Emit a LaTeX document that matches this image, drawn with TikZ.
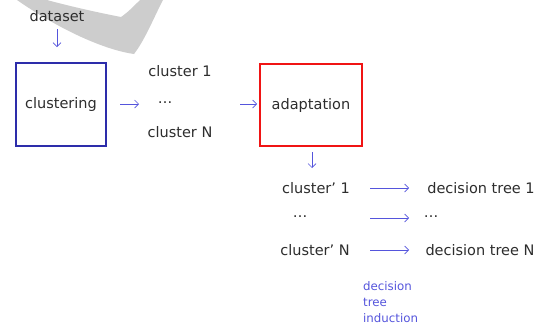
\documentclass[tikz,border=0pt]{standalone}
\usepackage{fontspec}
\setmainfont{DejaVu Sans}
\usetikzlibrary{arrows.meta}
\definecolor{txtgray}{RGB}{45,45,45}
\definecolor{flowblue}{RGB}{85,85,220}
\definecolor{boxblue}{RGB}{45,45,170}
\definecolor{boxred}{RGB}{240,20,20}
\definecolor{logogray}{RGB}{205,205,205}
\newcommand{\prm}{\char"0027}
\tikzset{
  lbl/.style={text=txtgray, font=\fontsize{14.5}{16}\selectfont, inner sep=0pt},
  procbox/.style={draw, line width=2pt, minimum width=90pt, minimum height=82pt, inner sep=0pt, text=txtgray, font=\fontsize{14.5}{16}\selectfont},
  flow/.style={draw=flowblue, line width=0.7pt, -{Straight Barb[length=4pt,width=8pt]}},
  note/.style={text=flowblue, font=\fontsize{11.8}{16}\selectfont, align=left, inner sep=0pt, anchor=north west}
}
\begin{document}
\begin{tikzpicture}[x=1pt,y=-1pt]
\useasboundingbox (0,0) rectangle (540,327);
% background logo stroke
\fill[logogray] (17,0) .. controls (60,30) and (105,50) .. (134,54)
  .. controls (145,40) and (155,15) .. (163,0) -- (140,0)
  .. controls (133,7) and (127,13) .. (121,17)
  .. controls (95,12) and (65,5) .. (47,0) -- cycle;

\node[lbl] (data) at (57,16) {dataset};
\node[procbox, draw=boxblue, minimum width=90pt, minimum height=83pt] (clus) at (61,104.5) {clustering};
\node[lbl] (c1) at (180,71) {cluster 1};
\node[lbl] (cdots) at (165,103) {\dots};
\node[lbl] (cN) at (180,132) {cluster N};
\node[procbox, draw=boxred, minimum width=102pt, minimum height=82pt] (adapt) at (311,105) {adaptation};

\node[lbl] (p1) at (316,188) {cluster\prm{} 1};
\node[lbl] (pdots) at (300,217) {\dots};
\node[lbl] (pN) at (315,250) {cluster\prm{} N};
\node[lbl] (t1) at (481,188) {decision tree 1};
\node[lbl] (tdots) at (431,217) {\dots};
\node[lbl] (tN) at (480,250) {decision tree N};

\node[note] (dti) at (363,281) {decision\\tree\\induction};

\coordinate (a0) at (57,29); \coordinate (a1) at (57,47);
\coordinate (b0) at (120,104); \coordinate (b1) at (139,104);
\coordinate (c0) at (240,104); \coordinate (c1e) at (257,104);
\coordinate (d0) at (312,152); \coordinate (d1) at (312,168);
\draw[flow] (a0) -- (a1);
\draw[flow] (b0) -- (b1);
\draw[flow] (c0) -- (c1e);
\draw[flow] (d0) -- (d1);
\coordinate (e1) at (370,188); \coordinate (f1) at (409,188);
\coordinate (e2) at (370,218); \coordinate (f2) at (409,218);
\coordinate (e3) at (370,250); \coordinate (f3) at (409,250);
\draw[flow] (e1) -- (f1);
\draw[flow] (e2) -- (f2);
\draw[flow] (e3) -- (f3);
\end{tikzpicture}
\end{document}
